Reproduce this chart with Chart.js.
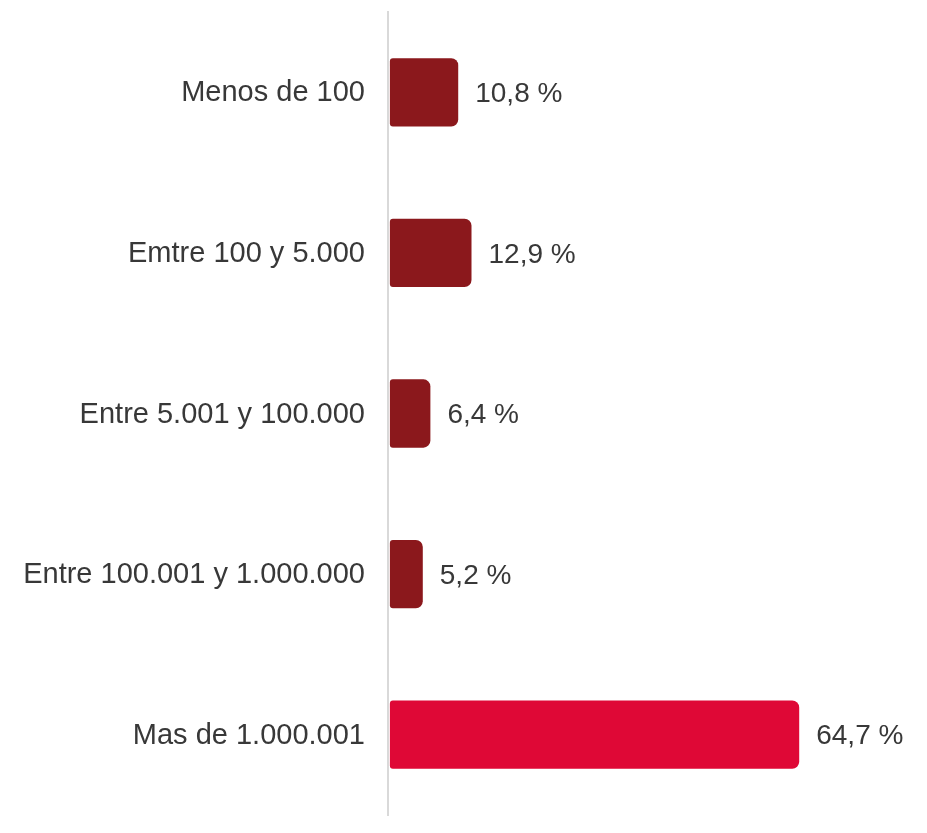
<!DOCTYPE html>
<html>
<head>
<meta charset="utf-8">
<script src="https://cdn.jsdelivr.net/npm/chart.js@4"></script>
<style>
  html, body { margin: 0; padding: 0; background: #fff; }
  #wrap { width: 927px; height: 833px; }
</style>
</head>
<body>
<div id="wrap"><canvas id="chart"></canvas></div>
<script>
var categories = ["Menos de 100", "Emtre 100 y 5.000", "Entre 5.001 y 100.000", "Entre 100.001 y 1.000.000", "Mas de 1.000.001"]
var values = [10.8, 12.9, 6.4, 5.2, 64.7]
var colors = ['#8b181c', '#8b181c', '#8b181c', '#8b181c', '#df0836']

// etiquetas de valor a la derecha de cada barra
var valueLabels = {
    id: 'valueLabels',
    afterDatasetsDraw: function(chart) {
        var ctx = chart.ctx
        var meta = chart.getDatasetMeta(0)
        ctx.save()
        ctx.font = '28px "Liberation Sans", Arial, sans-serif'
        ctx.fillStyle = '#383838'
        ctx.textAlign = 'left'
        ctx.textBaseline = 'middle'
        meta.data.forEach(function(bar, i) {
            var txt = values[i].toFixed(1).replace('.', ',') + ' %'
            ctx.fillText(txt, bar.x + 17, bar.y + 2)
        })
        ctx.restore()
    }
}

document.addEventListener("DOMContentLoaded", function() {
    var ctx = document.getElementById("chart").getContext('2d')
    new Chart(ctx, {
        type: 'bar',
        data: {
            labels: categories,
            datasets: [{
                data: values,
                backgroundColor: colors,
                borderSkipped: false,
                borderRadius: { topLeft: 3, bottomLeft: 3, topRight: 7, bottomRight: 7 },
                barPercentage: 0.425,
                categoryPercentage: 1
            }]
        },
        options: {
            indexAxis: 'y',
            responsive: true,
            maintainAspectRatio: false,
            animation: false,
            layout: { padding: { top: 12, bottom: 18, left: 0, right: 31 } },
            plugins: {
                legend: { display: false },
                tooltip: { enabled: false }
            },
            scales: {
                x: {
                    display: false,
                    min: -0.3,
                    max: 80
                },
                y: {
                    afterFit: function(s) {
                        s.width = 388
                        s.paddingTop = 0
                        s.paddingBottom = 0
                    },
                    grid: { display: false, drawTicks: false },
                    border: { display: true, color: '#d9d9d9', width: 2 },
                    ticks: {
                        padding: 23,
                        labelOffset: 1,
                        color: '#383838',
                        font: { family: '"Liberation Sans", Arial, sans-serif', size: 29 }
                    }
                }
            }
        },
        plugins: [valueLabels]
    })
})
</script>
</body>
</html>
